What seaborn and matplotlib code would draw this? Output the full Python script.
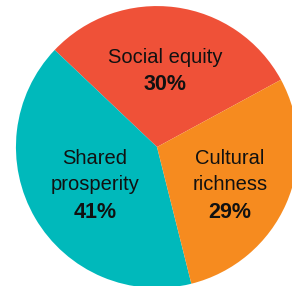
import matplotlib
matplotlib.use("Agg")
import matplotlib.pyplot as plt
import seaborn as sns

# values
labels = ["Social equity", "Shared\nprosperity", "Cultural\nrichness"]
shares = [30, 41, 29]
colours = ["#EF5138", "#00B9BB", "#F68B1F"]

sns.set_theme(style="white")
plt.rcParams["font.family"] = ["Liberation Sans", "DejaVu Sans"]

fig = plt.figure(figsize=(2.92, 2.86), dpi=100)
ax = fig.add_axes([0, 0, 1, 1])

wedges, _ = ax.pie(shares, colors=sns.color_palette(colours), startangle=28.5,
                   counterclock=True, radius=1,
                   wedgeprops=dict(linewidth=0))

# label positions inside each slice
name_pos = [(0.057, 0.632), (-0.44, -0.174), (0.518, -0.174)]
pct_pos = [(0.057, 0.447), (-0.44, -0.468), (0.518, -0.468)]

for lab, val, (nx, ny), (px, py) in zip(labels, shares, name_pos, pct_pos):
    ax.text(nx, ny, lab, ha="center", va="center", fontsize=14.5,
            color="#111111", linespacing=1.5)
    ax.text(px, py, f"{val}%", ha="center", va="center", fontsize=15.5,
            fontweight="bold", color="#111111")

ax.set_xlim(-1.113, 0.957)
ax.set_ylim(-0.986, 1.043)
ax.set_aspect("auto")
ax.axis("off")

fig.savefig("out.png", dpi=100)
